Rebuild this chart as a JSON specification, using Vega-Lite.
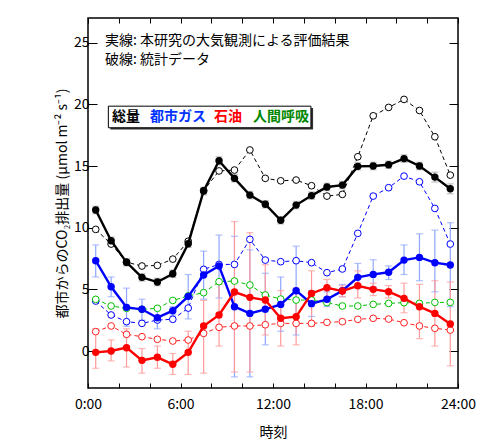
{
  "$schema": "https://vega.github.io/schema/vega-lite/v6.json",
  "width": 370,
  "height": 370,
  "autosize": {"type": "none"},
  "padding": {"left": 88, "top": 18, "right": 42, "bottom": 59},
  "background": "white",
  "config": {
    "view": {"stroke": "#000", "strokeWidth": 1.5},
    "font": "Noto Sans CJK JP",
    "axis": {"grid": false, "domain": false, "tickColor": "#000", "labelColor": "#000", "titleColor": "#000", "labelFont": "Noto Sans CJK JP", "titleFont": "Noto Sans CJK JP"}
  },
  "datasets": {
    "main": [
      {"h":0.5,"s":"total","k":"obs","v":11.43,"lo":11.13,"hi":11.73},
      {"h":1.5,"s":"total","k":"obs","v":8.94,"lo":8.64,"hi":9.24},
      {"h":2.5,"s":"total","k":"obs","v":7.19,"lo":6.89,"hi":7.49},
      {"h":3.5,"s":"total","k":"obs","v":5.97,"lo":5.67,"hi":6.27},
      {"h":4.5,"s":"total","k":"obs","v":5.59,"lo":5.29,"hi":5.89},
      {"h":5.5,"s":"total","k":"obs","v":6.26,"lo":5.96,"hi":6.56},
      {"h":6.5,"s":"total","k":"obs","v":8.7,"lo":8.4,"hi":9.0},
      {"h":7.5,"s":"total","k":"obs","v":12.97,"lo":12.67,"hi":13.27},
      {"h":8.5,"s":"total","k":"obs","v":15.42,"lo":15.1,"hi":15.75},
      {"h":9.5,"s":"total","k":"obs","v":14.0,"lo":13.7,"hi":14.3},
      {"h":10.5,"s":"total","k":"obs","v":12.64,"lo":12.34,"hi":12.94},
      {"h":11.5,"s":"total","k":"obs","v":11.9,"lo":11.6,"hi":12.2},
      {"h":12.5,"s":"total","k":"obs","v":10.6,"lo":10.3,"hi":10.9},
      {"h":13.5,"s":"total","k":"obs","v":11.83,"lo":11.53,"hi":12.13},
      {"h":14.5,"s":"total","k":"obs","v":12.6,"lo":12.3,"hi":12.9},
      {"h":15.5,"s":"total","k":"obs","v":13.3,"lo":13.0,"hi":13.6},
      {"h":16.5,"s":"total","k":"obs","v":13.45,"lo":13.15,"hi":13.75},
      {"h":17.5,"s":"total","k":"obs","v":14.97,"lo":14.67,"hi":15.27},
      {"h":18.5,"s":"total","k":"obs","v":15.0,"lo":14.7,"hi":15.3},
      {"h":19.5,"s":"total","k":"obs","v":15.1,"lo":14.8,"hi":15.4},
      {"h":20.5,"s":"total","k":"obs","v":15.6,"lo":15.3,"hi":15.9},
      {"h":21.5,"s":"total","k":"obs","v":15.0,"lo":14.7,"hi":15.3},
      {"h":22.5,"s":"total","k":"obs","v":14.1,"lo":13.7,"hi":14.5},
      {"h":23.5,"s":"total","k":"obs","v":13.15,"lo":12.75,"hi":13.55},

      {"h":0.5,"s":"gas","k":"obs","v":7.32,"lo":6.0,"hi":8.6},
      {"h":1.5,"s":"gas","k":"obs","v":5.21,"lo":4.4,"hi":6.0},
      {"h":2.5,"s":"gas","k":"obs","v":3.54,"lo":2.0,"hi":5.1},
      {"h":3.5,"s":"gas","k":"obs","v":3.38,"lo":2.5,"hi":4.2},
      {"h":4.5,"s":"gas","k":"obs","v":2.7,"lo":1.8,"hi":3.4},
      {"h":5.5,"s":"gas","k":"obs","v":3.27,"lo":2.9,"hi":3.6},
      {"h":6.5,"s":"gas","k":"obs","v":4.43,"lo":2.6,"hi":6.2},
      {"h":7.5,"s":"gas","k":"obs","v":6.16,"lo":4.2,"hi":8.1},
      {"h":8.5,"s":"gas","k":"obs","v":6.89,"lo":4.3,"hi":9.4},
      {"h":9.5,"s":"gas","k":"obs","v":3.59,"lo":-2.1,"hi":9.3},
      {"h":10.5,"s":"gas","k":"obs","v":3.05,"lo":-2.1,"hi":8.2},
      {"h":11.5,"s":"gas","k":"obs","v":3.38,"lo":0.5,"hi":6.3},
      {"h":12.5,"s":"gas","k":"obs","v":3.78,"lo":1.6,"hi":6.0},
      {"h":13.5,"s":"gas","k":"obs","v":4.89,"lo":1.3,"hi":8.5},
      {"h":14.5,"s":"gas","k":"obs","v":3.84,"lo":2.8,"hi":4.9},
      {"h":15.5,"s":"gas","k":"obs","v":4.19,"lo":3.6,"hi":4.8},
      {"h":16.5,"s":"gas","k":"obs","v":4.89,"lo":4.4,"hi":5.4},
      {"h":17.5,"s":"gas","k":"obs","v":5.97,"lo":5.1,"hi":7.1},
      {"h":18.5,"s":"gas","k":"obs","v":6.21,"lo":5.2,"hi":7.4},
      {"h":19.5,"s":"gas","k":"obs","v":6.38,"lo":5.8,"hi":6.9},
      {"h":20.5,"s":"gas","k":"obs","v":7.37,"lo":6.2,"hi":8.6},
      {"h":21.5,"s":"gas","k":"obs","v":7.59,"lo":5.7,"hi":9.5},
      {"h":22.5,"s":"gas","k":"obs","v":7.16,"lo":4.8,"hi":9.8},
      {"h":23.5,"s":"gas","k":"obs","v":6.97,"lo":3.6,"hi":10.4},

      {"h":0.5,"s":"oil","k":"obs","v":-0.11,"lo":-1.4,"hi":1.8},
      {"h":1.5,"s":"oil","k":"obs","v":0.0,"lo":-0.8,"hi":0.9},
      {"h":2.5,"s":"oil","k":"obs","v":0.27,"lo":-1.3,"hi":1.8},
      {"h":3.5,"s":"oil","k":"obs","v":-0.76,"lo":-1.8,"hi":0.2},
      {"h":4.5,"s":"oil","k":"obs","v":-0.51,"lo":-1.4,"hi":0.4},
      {"h":5.5,"s":"oil","k":"obs","v":-1.08,"lo":-1.9,"hi":-0.2},
      {"h":6.5,"s":"oil","k":"obs","v":-0.11,"lo":-1.9,"hi":1.6},
      {"h":7.5,"s":"oil","k":"obs","v":2.03,"lo":-1.8,"hi":4.1},
      {"h":8.5,"s":"oil","k":"obs","v":2.92,"lo":0.4,"hi":5.4},
      {"h":9.5,"s":"oil","k":"obs","v":4.78,"lo":-1.7,"hi":10.5},
      {"h":10.5,"s":"oil","k":"obs","v":4.35,"lo":-1.7,"hi":9.6},
      {"h":11.5,"s":"oil","k":"obs","v":4.13,"lo":1.3,"hi":7.0},
      {"h":12.5,"s":"oil","k":"obs","v":2.65,"lo":0.4,"hi":4.9},
      {"h":13.5,"s":"oil","k":"obs","v":2.78,"lo":0.5,"hi":5.1},
      {"h":14.5,"s":"oil","k":"obs","v":4.67,"lo":2.0,"hi":6.5},
      {"h":15.5,"s":"oil","k":"obs","v":5.13,"lo":4.3,"hi":5.8},
      {"h":16.5,"s":"oil","k":"obs","v":4.86,"lo":4.4,"hi":5.3},
      {"h":17.5,"s":"oil","k":"obs","v":5.29,"lo":4.3,"hi":6.5},
      {"h":18.5,"s":"oil","k":"obs","v":5.0,"lo":4.5,"hi":5.5},
      {"h":19.5,"s":"oil","k":"obs","v":4.81,"lo":4.3,"hi":5.3},
      {"h":20.5,"s":"oil","k":"obs","v":4.27,"lo":3.1,"hi":5.5},
      {"h":21.5,"s":"oil","k":"obs","v":3.59,"lo":1.0,"hi":5.4},
      {"h":22.5,"s":"oil","k":"obs","v":3.05,"lo":0.4,"hi":5.7},
      {"h":23.5,"s":"oil","k":"obs","v":2.19,"lo":-1.2,"hi":5.6},

      {"h":0.5,"s":"total","k":"stat","v":9.86},
      {"h":1.5,"s":"total","k":"stat","v":8.67},
      {"h":2.5,"s":"total","k":"stat","v":7.2},
      {"h":3.5,"s":"total","k":"stat","v":6.89},
      {"h":4.5,"s":"total","k":"stat","v":6.94},
      {"h":5.5,"s":"total","k":"stat","v":7.45},
      {"h":6.5,"s":"total","k":"stat","v":8.9},
      {"h":7.5,"s":"total","k":"stat","v":13.0},
      {"h":8.5,"s":"total","k":"stat","v":14.6},
      {"h":9.5,"s":"total","k":"stat","v":14.67},
      {"h":10.5,"s":"total","k":"stat","v":16.3},
      {"h":11.5,"s":"total","k":"stat","v":14.0},
      {"h":12.5,"s":"total","k":"stat","v":13.8},
      {"h":13.5,"s":"total","k":"stat","v":13.86},
      {"h":14.5,"s":"total","k":"stat","v":13.4},
      {"h":15.5,"s":"total","k":"stat","v":12.56},
      {"h":16.5,"s":"total","k":"stat","v":12.7},
      {"h":17.5,"s":"total","k":"stat","v":15.75},
      {"h":18.5,"s":"total","k":"stat","v":19.07},
      {"h":19.5,"s":"total","k":"stat","v":19.75},
      {"h":20.5,"s":"total","k":"stat","v":20.4},
      {"h":21.5,"s":"total","k":"stat","v":19.5},
      {"h":22.5,"s":"total","k":"stat","v":17.37},
      {"h":23.5,"s":"total","k":"stat","v":14.26},

      {"h":0.5,"s":"gas","k":"stat","v":4.05},
      {"h":1.5,"s":"gas","k":"stat","v":2.92},
      {"h":2.5,"s":"gas","k":"stat","v":2.38},
      {"h":3.5,"s":"gas","k":"stat","v":2.24},
      {"h":4.5,"s":"gas","k":"stat","v":2.51},
      {"h":5.5,"s":"gas","k":"stat","v":2.57},
      {"h":6.5,"s":"gas","k":"stat","v":3.48},
      {"h":7.5,"s":"gas","k":"stat","v":6.62},
      {"h":8.5,"s":"gas","k":"stat","v":7.02},
      {"h":9.5,"s":"gas","k":"stat","v":7.02},
      {"h":10.5,"s":"gas","k":"stat","v":9.05},
      {"h":11.5,"s":"gas","k":"stat","v":7.37},
      {"h":12.5,"s":"gas","k":"stat","v":7.24},
      {"h":13.5,"s":"gas","k":"stat","v":7.32},
      {"h":14.5,"s":"gas","k":"stat","v":7.16},
      {"h":15.5,"s":"gas","k":"stat","v":6.35},
      {"h":16.5,"s":"gas","k":"stat","v":6.65},
      {"h":17.5,"s":"gas","k":"stat","v":9.54},
      {"h":18.5,"s":"gas","k":"stat","v":12.56},
      {"h":19.5,"s":"gas","k":"stat","v":13.24},
      {"h":20.5,"s":"gas","k":"stat","v":14.18},
      {"h":21.5,"s":"gas","k":"stat","v":13.72},
      {"h":22.5,"s":"gas","k":"stat","v":11.56},
      {"h":23.5,"s":"gas","k":"stat","v":8.67},

      {"h":0.5,"s":"oil","k":"stat","v":1.57},
      {"h":1.5,"s":"oil","k":"stat","v":2.03},
      {"h":2.5,"s":"oil","k":"stat","v":1.35},
      {"h":3.5,"s":"oil","k":"stat","v":1.16},
      {"h":4.5,"s":"oil","k":"stat","v":0.95},
      {"h":5.5,"s":"oil","k":"stat","v":0.81},
      {"h":6.5,"s":"oil","k":"stat","v":0.89},
      {"h":7.5,"s":"oil","k":"stat","v":1.43},
      {"h":8.5,"s":"oil","k":"stat","v":1.92},
      {"h":9.5,"s":"oil","k":"stat","v":2.03},
      {"h":10.5,"s":"oil","k":"stat","v":2.03},
      {"h":11.5,"s":"oil","k":"stat","v":2.13},
      {"h":12.5,"s":"oil","k":"stat","v":2.24},
      {"h":13.5,"s":"oil","k":"stat","v":2.24},
      {"h":14.5,"s":"oil","k":"stat","v":2.24},
      {"h":15.5,"s":"oil","k":"stat","v":2.32},
      {"h":16.5,"s":"oil","k":"stat","v":2.38},
      {"h":17.5,"s":"oil","k":"stat","v":2.57},
      {"h":18.5,"s":"oil","k":"stat","v":2.65},
      {"h":19.5,"s":"oil","k":"stat","v":2.59},
      {"h":20.5,"s":"oil","k":"stat","v":2.29},
      {"h":21.5,"s":"oil","k":"stat","v":2.03},
      {"h":22.5,"s":"oil","k":"stat","v":1.84},
      {"h":23.5,"s":"oil","k":"stat","v":1.7},

      {"h":0.5,"s":"human","k":"stat","v":4.19},
      {"h":1.5,"s":"human","k":"stat","v":3.65},
      {"h":2.5,"s":"human","k":"stat","v":3.46},
      {"h":3.5,"s":"human","k":"stat","v":3.38},
      {"h":4.5,"s":"human","k":"stat","v":3.46},
      {"h":5.5,"s":"human","k":"stat","v":4.1},
      {"h":6.5,"s":"human","k":"stat","v":4.46},
      {"h":7.5,"s":"human","k":"stat","v":4.73},
      {"h":8.5,"s":"human","k":"stat","v":5.62},
      {"h":9.5,"s":"human","k":"stat","v":5.67},
      {"h":10.5,"s":"human","k":"stat","v":5.35},
      {"h":11.5,"s":"human","k":"stat","v":4.54},
      {"h":12.5,"s":"human","k":"stat","v":4.21},
      {"h":13.5,"s":"human","k":"stat","v":4.13},
      {"h":14.5,"s":"human","k":"stat","v":4.13},
      {"h":15.5,"s":"human","k":"stat","v":3.92},
      {"h":16.5,"s":"human","k":"stat","v":3.65},
      {"h":17.5,"s":"human","k":"stat","v":3.65},
      {"h":18.5,"s":"human","k":"stat","v":3.78},
      {"h":19.5,"s":"human","k":"stat","v":3.86},
      {"h":20.5,"s":"human","k":"stat","v":3.92},
      {"h":21.5,"s":"human","k":"stat","v":3.86},
      {"h":22.5,"s":"human","k":"stat","v":3.94},
      {"h":23.5,"s":"human","k":"stat","v":3.94}
    ],
    "notes": [
      {"x": 1.1, "y": 25.15, "t": "実線: 本研究の大気観測による評価結果"},
      {"x": 1.1, "y": 23.6, "t": "破線: 統計データ"}
    ],
    "box": [
      {"x1": 1.45, "x2": 14.6, "y1": 17.95, "y2": 19.7, "r": "shadow"},
      {"x1": 1.32, "x2": 14.46, "y1": 18.1, "y2": 19.85, "r": "box"}
    ],
    "legend": [
      {"x": 1.56, "y": 18.96, "t": "総量", "s": "total"},
      {"x": 4.02, "y": 18.96, "t": "都市ガス", "s": "gas"},
      {"x": 8.17, "y": 18.96, "t": "石油", "s": "oil"},
      {"x": 10.7, "y": 18.96, "t": "人間呼吸", "s": "human"}
    ]
  },
  "layer": [
    {
      "mark": {"type": "rule", "color": "#555", "strokeWidth": 1, "strokeDash": [1, 1]},
      "encoding": {"y": {"datum": 0, "type": "quantitative", "scale": {"domain": [-3, 27], "nice": false, "zero": false}, "axis": null}}
    },
    {
      "data": {"name": "main"},
      "transform": [{"filter": "datum.k == 'obs'"}],
      "mark": {"type": "rule", "strokeWidth": 1.2},
      "encoding": {
        "x": {"field": "h", "type": "quantitative", "scale": {"domain": [0, 24], "nice": false, "zero": false}, "axis": null},
        "y": {"field": "lo", "type": "quantitative", "axis": null},
        "y2": {"field": "hi"},
        "color": {"field": "s", "type": "nominal", "scale": {"domain": ["total", "gas", "oil"], "range": ["#aaaaaa", "#8ea6ff", "#ff9a9a"]}, "legend": null}
      }
    },
    {
      "data": {"name": "main"},
      "transform": [{"filter": "datum.k == 'obs'"}],
      "mark": {"type": "tick", "orient": "horizontal", "size": 7, "thickness": 1.2},
      "encoding": {
        "x": {"field": "h", "type": "quantitative", "axis": null},
        "y": {"field": "lo", "type": "quantitative", "axis": null},
        "color": {"field": "s", "type": "nominal", "scale": {"domain": ["total", "gas", "oil"], "range": ["#aaaaaa", "#8ea6ff", "#ff9a9a"]}, "legend": null}
      }
    },
    {
      "data": {"name": "main"},
      "transform": [{"filter": "datum.k == 'obs'"}],
      "mark": {"type": "tick", "orient": "horizontal", "size": 7, "thickness": 1.2},
      "encoding": {
        "x": {"field": "h", "type": "quantitative", "axis": null},
        "y": {"field": "hi", "type": "quantitative", "axis": null},
        "color": {"field": "s", "type": "nominal", "scale": {"domain": ["total", "gas", "oil"], "range": ["#aaaaaa", "#8ea6ff", "#ff9a9a"]}, "legend": null}
      }
    },
    {
      "data": {"name": "main"},
      "transform": [{"filter": "datum.k == 'stat'"}],
      "mark": {"type": "line", "strokeWidth": 1, "strokeDash": [4, 3]},
      "encoding": {
        "x": {"field": "h", "type": "quantitative",
          "axis": {"orient": "bottom", "values": [0,2,4,6,8,10,12,14,16,18,20,22,24], "labelExpr": "datum.value % 6 == 0 ? datum.value + ':00' : ''", "tickSize": -5, "tickWidth": 1, "labelFontSize": 14, "labelPadding": 14, "labelFlush": false, "labelOverlap": false, "title": "時刻", "titleFontSize": 14, "titleFontWeight": "normal", "titlePadding": 14}},
        "y": {"field": "v", "type": "quantitative",
          "axis": {"orient": "left", "values": [0,5,10,15,20,25], "tickSize": -9, "tickWidth": 1, "labelFontSize": 14, "labelPadding": 8, "title": "都市からのCO₂排出量 (μmol m⁻² s⁻¹)", "titleFontSize": 14, "titleFontWeight": "normal", "titlePadding": 4}},
        "color": {"field": "s", "type": "nominal", "scale": {"domain": ["total", "gas", "oil", "human"], "range": ["#000000", "#0000ff", "#ff2020", "#00c000"]}, "legend": null},
        "order": {"field": "h"}
      }
    },
    {
      "data": {"name": "main"},
      "transform": [{"filter": "datum.k == 'stat'"}],
      "mark": {"type": "point", "shape": "circle", "filled": false, "fill": "white", "fillOpacity": 1, "size": 45, "strokeWidth": 1, "opacity": 1},
      "encoding": {
        "x": {"field": "h", "type": "quantitative", "axis": null},
        "y": {"field": "v", "type": "quantitative", "axis": null},
        "color": {"field": "s", "type": "nominal", "scale": {"domain": ["total", "gas", "oil", "human"], "range": ["#000000", "#0000ff", "#ff2020", "#00c000"]}, "legend": null}
      }
    },
    {
      "data": {"name": "main"},
      "transform": [{"filter": "datum.k == 'obs'"}],
      "mark": {"type": "line", "strokeWidth": 2.4},
      "encoding": {
        "x": {"field": "h", "type": "quantitative", "axis": null},
        "y": {"field": "v", "type": "quantitative", "axis": null},
        "color": {"field": "s", "type": "nominal", "scale": {"domain": ["total", "gas", "oil"], "range": ["#000000", "#0000ff", "#ff0000"]}, "legend": null},
        "order": {"field": "h"}
      }
    },
    {
      "data": {"name": "main"},
      "transform": [{"filter": "datum.k == 'obs'"}],
      "mark": {"type": "point", "shape": "circle", "filled": true, "size": 55, "opacity": 1},
      "encoding": {
        "x": {"field": "h", "type": "quantitative", "axis": null},
        "y": {"field": "v", "type": "quantitative", "axis": null},
        "color": {"field": "s", "type": "nominal", "scale": {"domain": ["total", "gas", "oil"], "range": ["#000000", "#0000ff", "#ff0000"]}, "legend": null}
      }
    },
    {
      "data": {"name": "notes"},
      "mark": {"type": "text", "align": "left", "baseline": "middle", "fontSize": 14, "color": "#000", "font": "Noto Sans CJK JP"},
      "encoding": {
        "x": {"field": "x", "type": "quantitative",
          "axis": {"orient": "top", "values": [0,2,4,6,8,10,12,14,16,18,20,22,24], "labels": false, "tickSize": -5, "tickWidth": 1, "title": null}},
        "y": {"field": "y", "type": "quantitative",
          "axis": {"orient": "right", "values": [0,5,10,15,20,25], "labels": false, "tickSize": -9, "tickWidth": 1, "title": null}},
        "text": {"field": "t"}
      }
    },
    {
      "data": {"name": "box"},
      "transform": [{"filter": "datum.r == 'shadow'"}],
      "mark": {"type": "rect", "fill": "#333", "stroke": null},
      "encoding": {
        "x": {"field": "x1", "type": "quantitative", "axis": null},
        "x2": {"field": "x2"},
        "y": {"field": "y1", "type": "quantitative", "axis": null},
        "y2": {"field": "y2"}
      }
    },
    {
      "data": {"name": "box"},
      "transform": [{"filter": "datum.r == 'box'"}],
      "mark": {"type": "rect", "fill": "white", "stroke": "#000", "strokeWidth": 1},
      "encoding": {
        "x": {"field": "x1", "type": "quantitative", "axis": null},
        "x2": {"field": "x2"},
        "y": {"field": "y1", "type": "quantitative", "axis": null},
        "y2": {"field": "y2"}
      }
    },
    {
      "data": {"name": "legend"},
      "mark": {"type": "text", "align": "left", "baseline": "middle", "fontSize": 14, "fontWeight": "bold", "font": "Noto Sans CJK JP"},
      "encoding": {
        "x": {"field": "x", "type": "quantitative", "axis": null},
        "y": {"field": "y", "type": "quantitative", "axis": null},
        "text": {"field": "t"},
        "color": {"field": "s", "type": "nominal", "scale": {"domain": ["total", "gas", "oil", "human"], "range": ["#000000", "#0033ff", "#ff0000", "#008800"]}, "legend": null}
      }
    }
  ],
  "resolve": {"scale": {"color": "independent"}}
}
